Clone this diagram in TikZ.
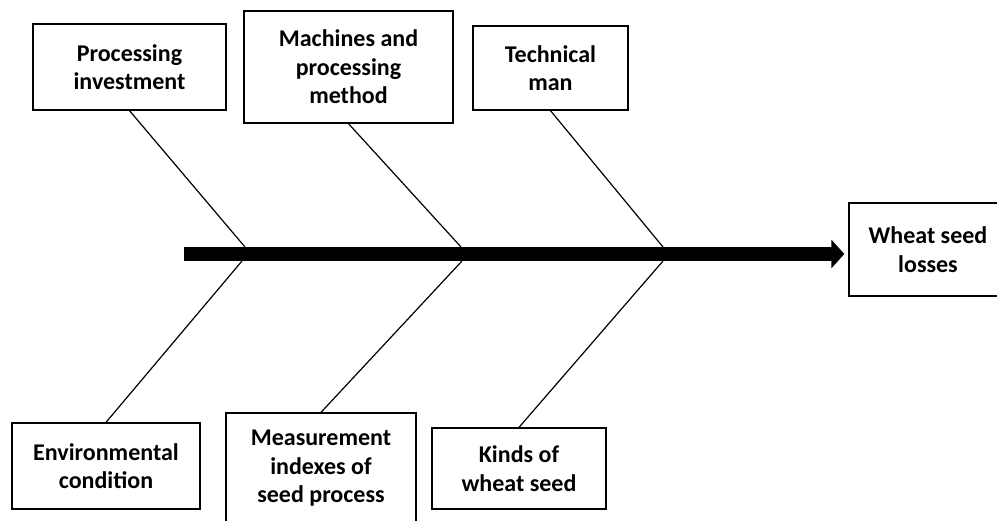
\documentclass[tikz,border=0pt]{standalone}
\usepackage{fontspec}
\setmainfont{Carlito}
\usetikzlibrary{arrows.meta}

\begin{document}
\begin{tikzpicture}[x=1pt, y=-1pt,
	cause/.style={draw, rectangle, line width=1.3pt, align=center, inner sep=0pt, font=\bfseries\fontsize{24}{28.5}\selectfont},
	bone/.style={line width=1.2pt}]
	\clip (0,0) rectangle (997,521);
	% causes above the spine
	\node (invest) [cause, minimum width=193pt, minimum height=86pt] at (129.5, 67) {Processing\\investment};
	\node (machine) [cause, minimum width=209pt, minimum height=112pt] at (348.5, 67) {Machines and\\processing\\method};
	\node (tech) [cause, minimum width=155pt, minimum height=84pt] at (550.5, 68) {Technical\\man};
	% causes below the spine
	\node (env) [cause, minimum width=188pt, minimum height=86pt] at (106, 466) {Environmental\\condition};
	\node (measure) [cause, minimum width=190pt, minimum height=111pt] at (321, 468.5) {Measurement\\indexes of\\seed process};
	\node (kinds) [cause, minimum width=174pt, minimum height=81pt] at (519, 468.5) {Kinds of\\wheat seed};
	% effect
	\node (effect) [cause, minimum width=158pt, minimum height=93pt] at (928, 249.5) {Wheat seed\\losses};
	\coordinate (tail) at (184, 254);
	\coordinate (j1t) at (245, 247);
	\coordinate (j1b) at (242, 261);
	\coordinate (j2t) at (461, 247);
	\coordinate (j2b) at (462, 261);
	\coordinate (j3t) at (663, 247);
	\coordinate (j3b) at (663, 261);
	\draw[bone] (invest.south) -- (j1t);
	\draw[bone] (machine.south) -- (j2t);
	\draw[bone] (tech.south) -- (j3t);
	\draw[bone] (j1b) -- (env.north);
	\draw[bone] (j2b) -- (measure.north);
	\draw[bone] (j3b) -- (kinds.north);
	\draw[line width=14pt, -{Triangle[length=13pt, width=28pt]}, shorten >=4pt] (tail) -- (effect.west |- tail);
\end{tikzpicture}
\end{document}
